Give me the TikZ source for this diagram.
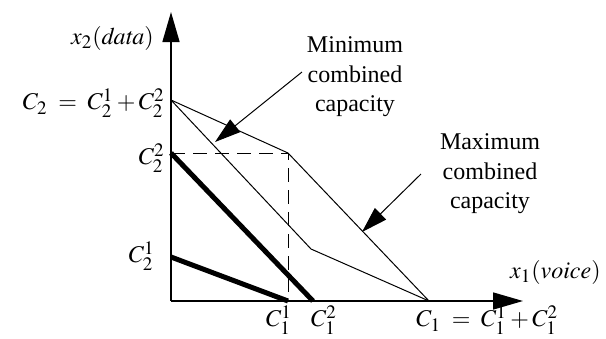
\documentclass[tikz,border=0pt]{standalone}
\usepackage{mathptmx}
\usepackage{fontspec}
\setmainfont{Liberation Serif}
\DeclareMathSizes{12}{12}{9.5}{7.5}
\usetikzlibrary{arrows.meta,positioning}

\begin{document}
\begin{tikzpicture}[x=0.5pt, y=-0.5pt,
    axis/.style={-{Triangle[length=15pt,width=8.5pt]}, line width=0.75pt},
    bound/.style={line width=0.5pt},
    share/.style={line width=2.5pt},
    pointer/.style={-{Triangle[length=13pt,width=8pt]}, line width=0.5pt},
    lbl/.style={font=\fontsize{12}{14.75}\selectfont, inner sep=1pt, align=center}
  ]
    \useasboundingbox (0,0) rectangle (606,338);
    \coordinate (o) at (171,301);
    \coordinate (ytip) at (171,12);
    \coordinate (xtip) at (523,301);
    \coordinate (c2) at (171,100);
    \coordinate (c22) at (171,153);
    \coordinate (c21) at (171,257);
    \coordinate (c1) at (429,301);
    \coordinate (c11) at (288,301);
    \coordinate (c12) at (313,301);
    \coordinate (corner) at (288,153);
    \coordinate (kink) at (311,249);
    \coordinate (minfrom) at (302,72);
    \coordinate (mintip) at (215,142);
    \coordinate (maxfrom) at (421,174);
    \coordinate (maxtip) at (362,232);

    \draw[axis] (o) -- (ytip);
    \draw[axis] (o) -- (xtip);

    \draw[dashed, dash pattern=on 7pt off 4pt, bound] (c22) -- (corner) -- (c11);
    \draw[bound] (c2) -- (corner) -- (c1);
    \draw[bound] (c2) -- (kink) -- (c1);
    \draw[share] (c22) -- (c12);
    \draw[share] (c21) -- (c11);

    \node[lbl, anchor=east] (ylbl) at (156,38) {$x_2(\mathit{data})$};
    \node[lbl, anchor=east] (c2lbl) at (167,103) {$C_2\;=\;C_2^1+C_2^2$};
    \node[lbl, anchor=east] (c22lbl) at (167,158) {$C_2^2$};
    \node[lbl, anchor=east] (c21lbl) at (157,256) {$C_2^1$};
    \node[lbl, anchor=north] (c11lbl) at (279,303) {$C_1^1$};
    \node[lbl, anchor=north] (c12lbl) at (324,303) {$C_1^2$};
    \node[lbl, anchor=north west] (c1lbl) at (414,303) {$C_1\;=\;C_1^1+C_1^2$};
    \node[lbl, anchor=east] (xlbl) at (603,272) {$x_1(\mathit{voice})$};
    \node[lbl] (minlbl) at (355,77) {Minimum\\combined\\capacity};
    \node[lbl] (maxlbl) at (490,174) {Maximum\\combined\\capacity};

    \draw[pointer] (minfrom) -- (mintip);
    \draw[pointer] (maxfrom) -- (maxtip);
  \end{tikzpicture}
\end{document}
